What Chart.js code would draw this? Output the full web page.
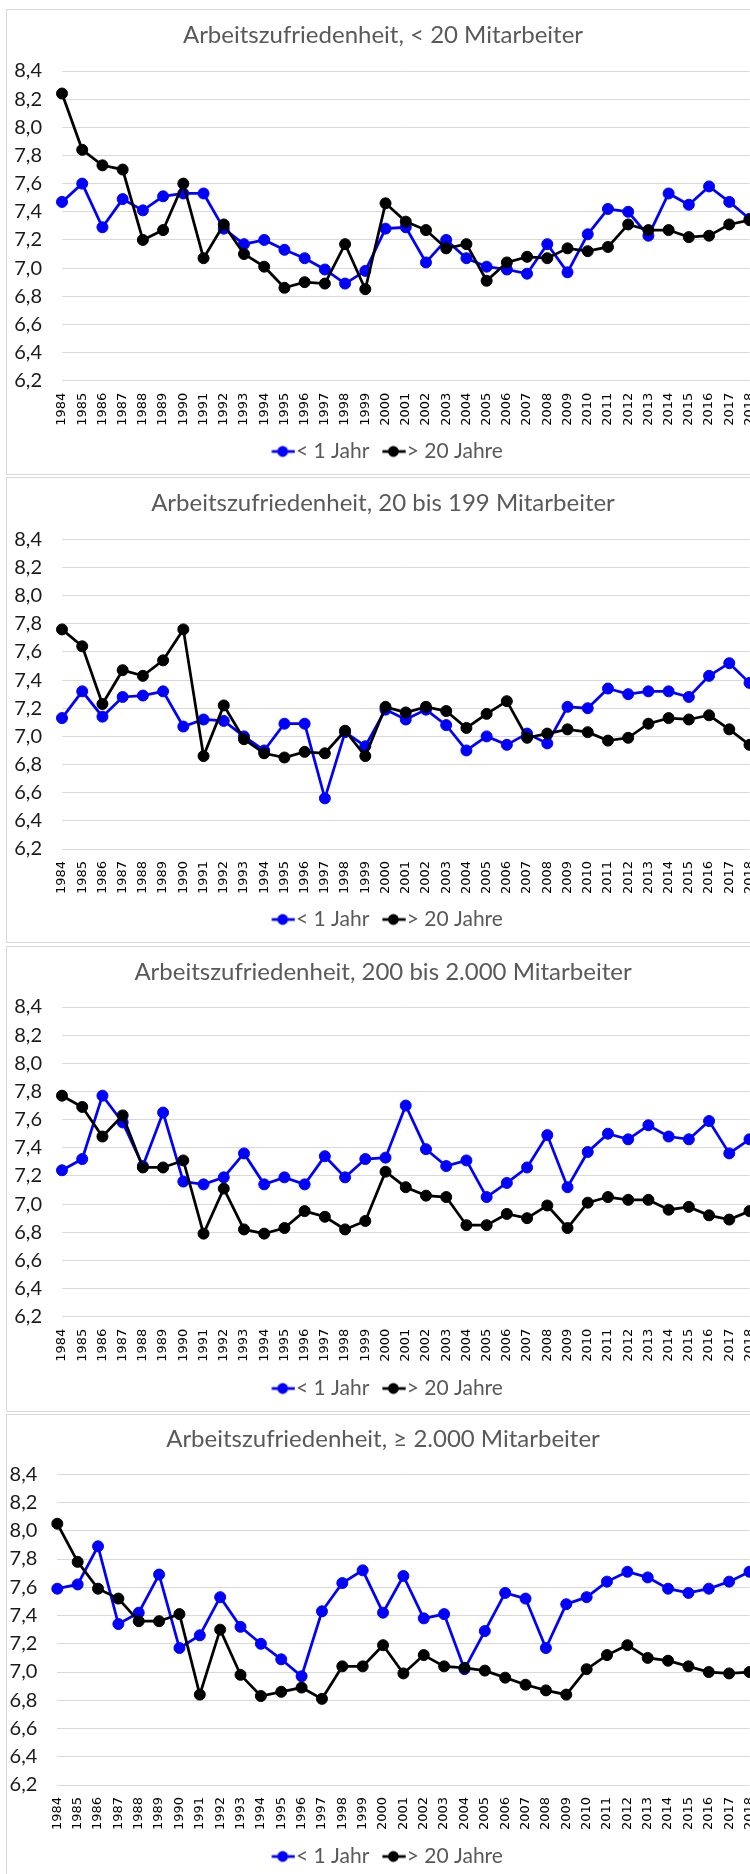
<!DOCTYPE html>
<html lang="de">
<head>
<meta charset="utf-8">
<title>Arbeitszufriedenheit nach Betriebsgröße</title>
<script src="https://cdn.jsdelivr.net/npm/chart.js@4.4.1/dist/chart.umd.min.js"></script>
<style>
    html, body { margin: 0; padding: 0; background: #fff; }
    body { width: 750px; height: 1874px; overflow: hidden; position: relative; }
    .panel { position: absolute; left: 6px; width: 770px; height: 464px; border: 1px solid #d9d9d9; background: #fff; }
    .panel canvas { position: absolute; left: 0; top: 0; }
</style>
</head>
<body>
<div class="panel" style="top: 9px"><canvas id="chart-0" width="752" height="464"></canvas></div>
<div class="panel" style="top: 477px"><canvas id="chart-1" width="752" height="464"></canvas></div>
<div class="panel" style="top: 946px"><canvas id="chart-2" width="752" height="464"></canvas></div>
<div class="panel" style="top: 1414px"><canvas id="chart-3" width="752" height="464"></canvas></div>
<script>
// Jahre der Befragungswellen
const years = ['1984', '1985', '1986', '1987', '1988', '1989', '1990', '1991', '1992', '1993',
    '1994', '1995', '1996', '1997', '1998', '1999', '2000', '2001', '2002', '2003',
    '2004', '2005', '2006', '2007', '2008', '2009', '2010', '2011', '2012', '2013',
    '2014', '2015', '2016', '2017', '2018'];

const yTickLabels = ['6,2', '6,4', '6,6', '6,8', '7,0', '7,2', '7,4', '7,6', '7,8', '8,0', '8,2', '8,4'];

const seriesNames = ['< 1 Jahr', '> 20 Jahre'];

const chartTitles = [
    'Arbeitszufriedenheit, < 20 Mitarbeiter',
    'Arbeitszufriedenheit, 20 bis 199 Mitarbeiter',
    'Arbeitszufriedenheit, 200 bis 2.000 Mitarbeiter',
    'Arbeitszufriedenheit, ≥ 2.000 Mitarbeiter'
];

// < 20 Mitarbeiter
const small_new = [7.47, 7.60, 7.29, 7.49, 7.41, 7.51, 7.53, 7.53, 7.28, 7.17,
    7.20, 7.13, 7.07, 6.99, 6.89, 6.98, 7.28, 7.29, 7.04, 7.20,
    7.07, 7.01, 6.99, 6.96, 7.17, 6.97, 7.24, 7.42, 7.40, 7.23,
    7.53, 7.45, 7.58, 7.47, 7.35];
const small_long = [8.24, 7.84, 7.73, 7.70, 7.20, 7.27, 7.60, 7.07, 7.31, 7.10,
    7.01, 6.86, 6.90, 6.89, 7.17, 6.85, 7.46, 7.33, 7.27, 7.14,
    7.17, 6.91, 7.04, 7.08, 7.07, 7.14, 7.12, 7.15, 7.31, 7.27,
    7.27, 7.22, 7.23, 7.31, 7.34];

// 20 bis 199 Mitarbeiter
const medium_new = [7.13, 7.32, 7.14, 7.28, 7.29, 7.32, 7.07, 7.12, 7.11, 7.00,
    6.90, 7.09, 7.09, 6.56, 7.03, 6.93, 7.19, 7.12, 7.19, 7.08,
    6.90, 7.00, 6.94, 7.02, 6.95, 7.21, 7.20, 7.34, 7.30, 7.32,
    7.32, 7.28, 7.43, 7.52, 7.38];
const medium_long = [7.76, 7.64, 7.23, 7.47, 7.43, 7.54, 7.76, 6.86, 7.22, 6.98,
    6.88, 6.85, 6.89, 6.88, 7.04, 6.86, 7.21, 7.17, 7.21, 7.18,
    7.06, 7.16, 7.25, 6.99, 7.02, 7.05, 7.03, 6.97, 6.99, 7.09,
    7.13, 7.12, 7.15, 7.05, 6.94];

// 200 bis 2.000 Mitarbeiter
const large_new = [7.24, 7.32, 7.77, 7.58, 7.27, 7.65, 7.16, 7.14, 7.19, 7.36,
    7.14, 7.19, 7.14, 7.34, 7.19, 7.32, 7.33, 7.70, 7.39, 7.27,
    7.31, 7.05, 7.15, 7.26, 7.49, 7.12, 7.37, 7.50, 7.46, 7.56,
    7.48, 7.46, 7.59, 7.36, 7.46];
const large_long = [7.77, 7.69, 7.48, 7.63, 7.26, 7.26, 7.31, 6.79, 7.11, 6.82,
    6.79, 6.83, 6.95, 6.91, 6.82, 6.88, 7.23, 7.12, 7.06, 7.05,
    6.85, 6.85, 6.93, 6.90, 6.99, 6.83, 7.01, 7.05, 7.03, 7.03,
    6.96, 6.98, 6.92, 6.89, 6.95];

// >= 2.000 Mitarbeiter
const huge_new = [7.59, 7.62, 7.89, 7.34, 7.42, 7.69, 7.17, 7.26, 7.53, 7.32,
    7.20, 7.09, 6.97, 7.43, 7.63, 7.72, 7.42, 7.68, 7.38, 7.41,
    7.02, 7.29, 7.56, 7.52, 7.17, 7.48, 7.53, 7.64, 7.71, 7.67,
    7.59, 7.56, 7.59, 7.64, 7.71];
const huge_long = [8.05, 7.78, 7.59, 7.52, 7.36, 7.36, 7.41, 6.84, 7.30, 6.98,
    6.83, 6.86, 6.89, 6.81, 7.04, 7.04, 7.19, 6.99, 7.12, 7.04,
    7.03, 7.01, 6.96, 6.91, 6.87, 6.84, 7.02, 7.12, 7.19, 7.10,
    7.08, 7.04, 7.00, 6.99, 7.00];

const panelSeries = [
    [small_new, small_long],
    [medium_new, medium_long],
    [large_new, large_long],
    [huge_new, huge_long]
];

// Lage der Zeichenfläche je Diagramm (Canvas-Koordinaten)
const plotTops = [61, 61.3, 60, 59.3];
const plotBottoms = [370.7, 371, 369.7, 370];
const titleCenters = [25, 25.3, 25.3, 24.7];
const yAxisWidths = [55, 55, 55, 50.3];

const CANVAS_W = 752;
const CANVAS_H = 464;
const PLOT_RIGHT = 742.5;
const TITLE_SIZE = 24;
const TITLE_LINE = TITLE_SIZE * 1.2;

const lineColors = ['#0000ff', '#000000'];

// Legende: Textbreiten messen und daraus Abstände ableiten,
// damit die Einträge an der gewünschten Stelle stehen
const LEGEND_SIZE = 21;
const LEGEND_TEXT1_X = 289;
const LEGEND_TEXT2_X = 399.7;
const LEGEND_CENTER_Y = 441.5;
const measureCtx = document.createElement('canvas').getContext('2d');
measureCtx.font = `normal ${LEGEND_SIZE}px Lato`;
const legendTextW = seriesNames.map(s => measureCtx.measureText(s).width);
const LEGEND_GAP = LEGEND_SIZE / 2;
const LEGEND_PAD = Math.max(2, CANVAS_W - legendTextW[0] - legendTextW[1] - 2 * LEGEND_TEXT1_X);
const LEGEND_BOX_W = Math.max(8, LEGEND_TEXT2_X - LEGEND_TEXT1_X - legendTextW[0] - LEGEND_PAD - LEGEND_GAP);
const LEGEND_H = LEGEND_SIZE + LEGEND_PAD + 10;
const PAD_BOTTOM = Math.max(0, CANVAS_H - LEGEND_CENTER_Y - LEGEND_SIZE / 2 - 10);

// Legendensymbol: kurze Linie mit Kreis, wie im Excel-Original
function makeLegendMarker(color) {
    const shift = LEGEND_BOX_W / 2 + LEGEND_GAP - 13.3;   // Kreismitte relativ zur Boxmitte
    const half = Math.ceil(Math.max(Math.abs(shift - 11), shift + 12.3));
    const c = document.createElement('canvas');
    c.width = half * 2;
    c.height = 14;
    const ctx = c.getContext('2d');
    const cx = half + shift;
    ctx.strokeStyle = color;
    ctx.lineWidth = 2.75;
    ctx.beginPath();
    ctx.moveTo(cx - 11, 7);
    ctx.lineTo(cx + 12.3, 7);
    ctx.stroke();
    ctx.fillStyle = color;
    ctx.beginPath();
    ctx.arc(cx, 7, 5.4, 0, Math.PI * 2);
    ctx.fill();
    return c;
}
const legendMarkers = lineColors.map(makeLegendMarker);

function buildChart(idx) {
    const ctx = document.getElementById('chart-' + idx).getContext('2d');
    const legendTop = CANVAS_H - PAD_BOTTOM - LEGEND_H;

    const datasets = panelSeries[idx].map((values, i) => ({
        label: seriesNames[i],
        data: values,
        borderColor: lineColors[i],
        backgroundColor: lineColors[i],
        borderWidth: 2.75,
        pointRadius: 5.5,
        pointBorderWidth: 1,
        pointHoverRadius: 5.5,
        tension: 0,
        // schwarze Linie liegt oben
        order: i === 0 ? 2 : 1
    }));

    return new Chart(ctx, {
        type: 'line',
        data: { labels: years, datasets: datasets },
        options: {
            responsive: false,
            animation: false,
            devicePixelRatio: 1,
            layout: { padding: { left: 0, right: 0, top: 0, bottom: PAD_BOTTOM } },
            scales: {
                x: {
                    offset: false,
                    grid: { display: false, drawTicks: false },
                    border: { display: false },
                    ticks: {
                        autoSkip: false,
                        minRotation: 90,
                        maxRotation: 90,
                        padding: 12,
                        color: '#000000',
                        font: { family: 'DejaVu Sans', size: 13 }
                    },
                    afterFit: (scale) => {
                        scale.height = legendTop - plotBottoms[idx];
                        // letzte Jahreszahl darf über den Rand hinausragen
                        scale.paddingLeft = 0;
                        scale.paddingRight = 0;
                    }
                },
                y: {
                    min: 6.2,
                    max: 8.4,
                    grid: { color: '#d9d9d9', lineWidth: 1, drawTicks: false },
                    border: { display: false },
                    ticks: {
                        stepSize: 0.2,
                        padding: 20,
                        color: '#1a1a1a',
                        font: { family: 'Lato', size: 20 },
                        callback: (value, index) => yTickLabels[index]
                    },
                    afterFit: (scale) => { scale.width = yAxisWidths[idx]; }
                },
                yRight: {
                    type: 'linear',
                    position: 'right',
                    grid: { display: false, drawTicks: false },
                    border: { display: false },
                    ticks: { display: false },
                    afterFit: (scale) => { scale.width = CANVAS_W - PLOT_RIGHT; }
                }
            },
            plugins: {
                title: {
                    display: true,
                    text: chartTitles[idx],
                    color: '#595959',
                    font: { family: 'Lato', size: TITLE_SIZE, weight: 'normal', lineHeight: 1.2 },
                    padding: {
                        top: titleCenters[idx] - TITLE_LINE / 2,
                        bottom: plotTops[idx] - titleCenters[idx] - TITLE_LINE / 2
                    }
                },
                legend: {
                    position: 'bottom',
                    labels: {
                        usePointStyle: true,
                        pointStyleWidth: LEGEND_BOX_W,
                        padding: LEGEND_PAD,
                        color: '#595959',
                        font: { family: 'Lato', size: LEGEND_SIZE, weight: 'normal' },
                        generateLabels: (chart) => {
                            const items = Chart.defaults.plugins.legend.labels.generateLabels(chart);
                            items.sort((a, b) => a.datasetIndex - b.datasetIndex);
                            items.forEach(item => { item.pointStyle = legendMarkers[item.datasetIndex]; });
                            return items;
                        }
                    }
                },
                tooltip: { enabled: false }
            }
        }
    });
}

chartTitles.forEach((t, i) => buildChart(i));
</script>
</body>
</html>
